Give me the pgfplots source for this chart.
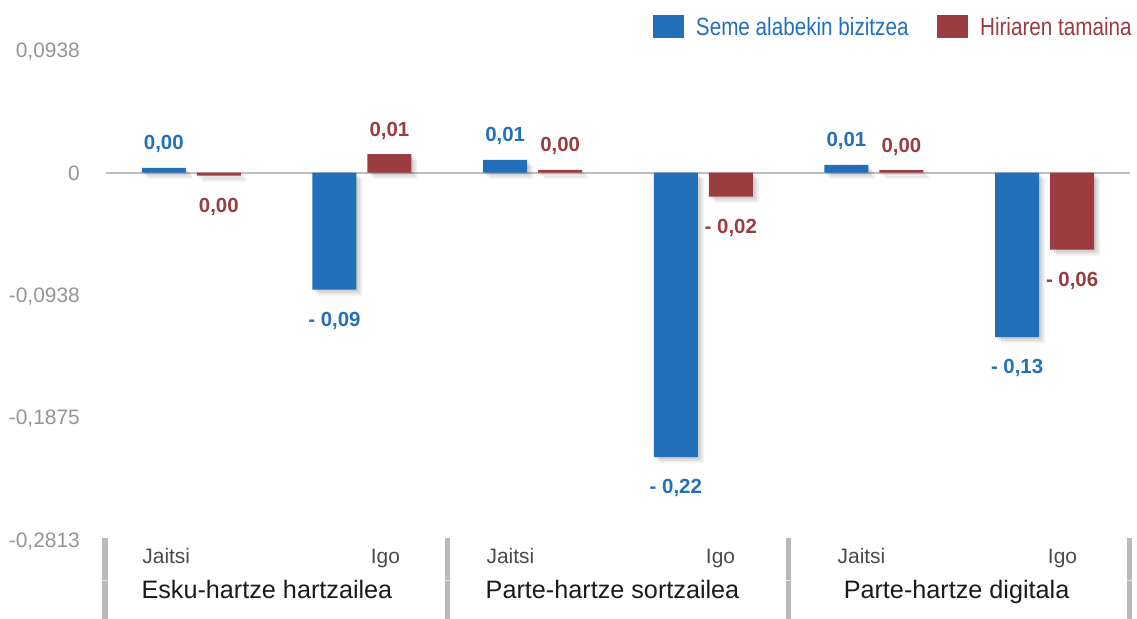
\documentclass[border=0pt]{standalone}
\usepackage{pgfplots}
\pgfplotsset{compat=1.18}
\usepackage{pgfplotstable}
\usepackage{fontspec}
\setmainfont{Liberation Sans}
\newfontfamily\legfont{Liberation Sans}[FakeStretch=0.83]
\definecolor{bluec}{HTML}{2270BA}
\definecolor{redc}{HTML}{9B3C40}
\definecolor{tickgray}{HTML}{959595}
\definecolor{sepgray}{HTML}{B6BABA}
\definecolor{zerogray}{HTML}{BEBEBE}
\definecolor{catgray}{HTML}{4A4A4A}
\definecolor{grpblack}{HTML}{1A1A1A}

\pgfplotstableread[col sep=semicolon]{
x;y;lab;dy
0;0.0036;0,00;18
1;-0.0896;- 0,09;-36.5
2;0.0097;0,01;18
3;-0.2178;- 0,22;-36.5
4;0.0059;0,01;18
5;-0.1260;- 0,13;-36.5
}\bluedata

\pgfplotstableread[col sep=semicolon]{
x;y;lab;dy
0;-0.0023;0,00;-36.5
1;0.0141;0,01;18
2;0.0020;0,00;18
3;-0.0185;- 0,02;-36.5
4;0.0018;0,00;18
5;-0.0590;- 0,06;-36.5
}\reddata

\tikzset{
  shadowed/.style={
    preaction={fill=black, opacity=0.07, transform canvas={shift={(2bp,-2bp)}}},
    preaction={fill=black, opacity=0.07, transform canvas={shift={(4bp,-4bp)}}},
    preaction={fill=black, opacity=0.06, transform canvas={shift={(6bp,-6bp)}}},
  }
}
\newcommand{\valfont}{\bfseries\fontsize{20.5}{24}\selectfont}
\newcommand{\catfont}{\fontsize{21}{25}\selectfont}
\newcommand{\grpfont}{\fontsize{25.3}{30}\selectfont}

\begin{document}
\begin{tikzpicture}
\path[use as bounding box] (0,0) rectangle (1137bp,619bp);
\begin{axis}[
  at={(106bp,79bp)}, anchor=south west,
  scale only axis, width=1024bp, height=490bp,
  xmin=-0.5, xmax=5.5, ymin=-0.2813, ymax=0.0938,
  clip=false,
  axis line style={draw=none},
  major tick length=0pt,
  xtick=\empty,
  ytick={-0.2813,-0.1875,-0.0938,0,0.0938},
  yticklabels={{-0,2813},{-0,1875},{-0,0938},{0},{0,0938}},
  yticklabel style={anchor=base east, inner sep=0pt, xshift=-26bp, yshift=-7.5bp, text=tickgray, font=\fontsize{21}{25}\selectfont},
  legend image code/.code={\fill[#1] (0bp,-11.5bp) rectangle (31bp,11.5bp);},
  legend style={at={(axis cs:5.5,0.0938)}, anchor=east, xshift=2bp, yshift=23.2bp,
    draw=none, fill=none, inner sep=0pt,
    font=\legfont\fontsize{25}{29}\selectfont,
    nodes={inner sep=0pt}, cells={anchor=west},
    /tikz/every odd column/.append style={column sep=12bp},
    /tikz/every even column/.append style={column sep=28.5bp}},
  legend columns=2,
]
\addlegendimage{fill=bluec, draw=none}
\addlegendentry{\textcolor{bluec}{Seme alabekin bizitzea}}
\addlegendimage{fill=redc, draw=none}
\addlegendentry{\textcolor{redc}{Hiriaren tamaina}}

\draw[zerogray, line width=2bp] (axis cs:-0.5,0) -- (axis cs:5.5,0);

\draw[sepgray, line width=5bp] (axis cs:-0.5,-0.2813) ++(-1bp,2bp) -- ++(0bp,-81bp);
\draw[sepgray, line width=5bp] (axis cs:1.5,-0.2813) ++(0bp,2bp) -- ++(0bp,-81bp);
\draw[sepgray, line width=5bp] (axis cs:3.5,-0.2813) ++(0bp,2bp) -- ++(0bp,-81bp);
\draw[sepgray, line width=5bp] (axis cs:5.5,-0.2813) ++(0bp,2bp) -- ++(0bp,-81bp);
\draw[white!60!sepgray, line width=1.2bp] (axis cs:-0.5,-0.2813) ++(-4bp,-40.5bp) -- ++(6bp,0bp);
\draw[white!60!sepgray, line width=1.2bp] (axis cs:1.5,-0.2813) ++(-3bp,-40.5bp) -- ++(6bp,0bp);
\draw[white!60!sepgray, line width=1.2bp] (axis cs:3.5,-0.2813) ++(-3bp,-40.5bp) -- ++(6bp,0bp);
\draw[white!60!sepgray, line width=1.2bp] (axis cs:5.5,-0.2813) ++(-3bp,-40.5bp) -- ++(6bp,0bp);

\node[anchor=base, text=catgray, font=\catfont, yshift=-23bp] at (axis cs:-0.147,-0.2813) {Jaitsi};
\node[anchor=base, text=catgray, font=\catfont, yshift=-23bp] at (axis cs:1.137,-0.2813) {Igo};
\node[anchor=base, text=catgray, font=\catfont, yshift=-23bp] at (axis cs:1.870,-0.2813) {Jaitsi};
\node[anchor=base, text=catgray, font=\catfont, yshift=-23bp] at (axis cs:3.101,-0.2813) {Igo};
\node[anchor=base, text=catgray, font=\catfont, yshift=-23bp] at (axis cs:3.927,-0.2813) {Jaitsi};
\node[anchor=base, text=catgray, font=\catfont, yshift=-23bp] at (axis cs:5.105,-0.2813) {Igo};

\node[anchor=base, text=grpblack, font=\grpfont, yshift=-58bp] at (axis cs:0.443,-0.2813) {Esku-hartze hartzailea};
\node[anchor=base, text=grpblack, font=\grpfont, yshift=-58bp] at (axis cs:2.468,-0.2813) {Parte-hartze sortzailea};
\node[anchor=base, text=grpblack, font=\grpfont, yshift=-58bp] at (axis cs:4.484,-0.2813) {Parte-hartze digitala};

\addplot[ybar, forget plot, fill=bluec, draw=none, bar width=44bp, bar shift=-27.5bp, shadowed,
  nodes near coords, point meta=explicit symbolic,
  visualization depends on={\thisrow{dy}\as\mydy},
  every node near coord/.append style={anchor=base, xshift=-27.5bp, yshift=\mydy bp, text=bluec, font=\valfont}
] table[x=x, y=y, meta=lab] {\bluedata};

\addplot[ybar, forget plot, fill=redc, draw=none, bar width=44bp, bar shift=27.5bp, shadowed,
  nodes near coords, point meta=explicit symbolic,
  visualization depends on={\thisrow{dy}\as\mydy},
  every node near coord/.append style={anchor=base, xshift=27.5bp, yshift=\mydy bp, text=redc, font=\valfont}
] table[x=x, y=y, meta=lab] {\reddata};
\end{axis}
\end{tikzpicture}
\end{document}
